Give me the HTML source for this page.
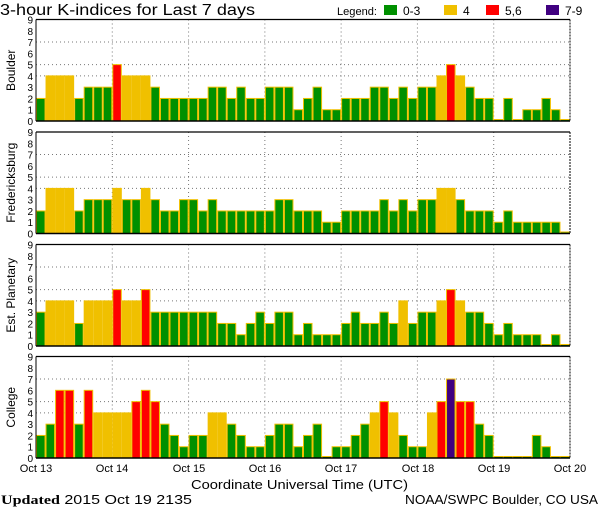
<!DOCTYPE html>
<html><head><meta charset="utf-8"><style>
html,body{margin:0;padding:0;background:#fff;}
svg{display:block;}
text{font-family:"Liberation Sans","DejaVu Sans",sans-serif;}
</style></head><body>
<svg id="s" width="600" height="510" xmlns="http://www.w3.org/2000/svg">
<rect width="600" height="510" fill="#fff"/>
<text x="0" y="15" font-size="16" textLength="255" lengthAdjust="spacingAndGlyphs">3-hour K-indices for Last 7 days</text>
<text x="337" y="15" font-size="11" textLength="40" lengthAdjust="spacingAndGlyphs">Legend:</text>
<rect x="384" y="5" width="13" height="10" fill="#009000"/><text x="403" y="15" font-size="12">0-3</text>
<rect x="444" y="5" width="13" height="10" fill="#f0c000"/><text x="463" y="15" font-size="12">4</text>
<rect x="486" y="5" width="13" height="10" fill="#ff0000"/><text x="505" y="15" font-size="12">5,6</text>
<rect x="546" y="5" width="13" height="10" fill="#400080"/><text x="565" y="15" font-size="12">7-9</text>
<g id="g"></g>
<g font-size="11" text-anchor="middle">
<text x="36" y="472">Oct 13</text><text x="112" y="472">Oct 14</text><text x="189" y="472">Oct 15</text><text x="265" y="472">Oct 16</text><text x="341" y="472">Oct 17</text><text x="418" y="472">Oct 18</text><text x="494" y="472">Oct 19</text><text x="570" y="472">Oct 20</text>
</g>
<text x="191" y="489" font-size="13" textLength="217" lengthAdjust="spacingAndGlyphs">Coordinate Universal Time (UTC)</text>
<text x="1" y="504" font-size="13" textLength="191" lengthAdjust="spacingAndGlyphs"><tspan font-family="Liberation Serif" font-weight="bold">Updated</tspan> 2015 Oct 19 2135</text>
<text x="405" y="504" font-size="13" textLength="193" lengthAdjust="spacingAndGlyphs">NOAA/SWPC Boulder, CO USA</text>
</svg>
<script>
var D=[
["Boulder",[2,4,4,4,2,3,3,3,5,4,4,4,3,2,2,2,2,2,3,3,2,3,2,2,3,3,3,1, 2,3,1,1,2,2,2,3,3,2,3,2,3,3,4,5,4,3,2,2,0,2,0,1,1,2,1,0]],
["Fredericksburg",[2,4,4,4,2,3,3,3,4,3,3,4,3,2,2,3,3,2,3,2,2,2,2,2,2,3,3,2, 2,2,1,1,2,2,2,2,3,2,3,2,3,3,4,4,3,2,2,2,1,2,1,1,1,1,1,0]],
["Est. Planetary",[3,4,4,4,2,4,4,4,5,4,4,5,3,3,3,3,3,3,3,2,2,1,2,3,2,3,3,1, 2,1,1,1,2,3,2,2,3,2,4,2,3,3,4,5,4,3,3,2,1,2,1,1,1,0,1,0]],
["College",[2,3,6,6,3,6,4,4,4,4,5,6,5,3,2,1,2,2,4,4,3,2,1,1,2,3,3,1, 2,3,0,1,1,2,3,4,5,4,2,1,1,4,5,7,5,5,3,2,0,0,0,0,2,1,0,0]]
];
var tops=[19.5,132,244.5,356.5],H=101.5,U=H/9,x0=36,x1=570,W=(x1-x0)/56;
var s='';
function col(v){return v<=3?'#009000':v==4?'#f0c000':v<=6?'#ff0000':'#400080';}
D.forEach(function(p,i){
 var t=tops[i],b=t+H;
 [4,5,7].forEach(function(l){var y=b-l*U;s+='<line x1="'+x0+'" x2="'+x1+'" y1="'+y+'" y2="'+y+'" stroke="#777" stroke-dasharray="1,3"/>';});
 for(var d=1;d<7;d++){var x=x0+d*8*W;s+='<line x1="'+x+'" x2="'+x+'" y1="'+t+'" y2="'+b+'" stroke="#777" stroke-dasharray="1,3"/>';}
 p[1].forEach(function(v,j){
  var h=v==0?1.5:v*U, x=x0+j*W;
  s+='<rect x="'+(x+0.5)+'" y="'+(b-h)+'" width="'+(W-1)+'" height="'+h+'" fill="'+col(v)+'" stroke="#f0c000" stroke-width="1"/>';
 });
 s+='<line x1="'+x0+'" x2="'+x1+'" y1="'+t+'" y2="'+t+'" stroke="#000" stroke-width="1.2"/>';
 s+='<line x1="'+x0+'" x2="'+x1+'" y1="'+b+'" y2="'+b+'" stroke="#000" stroke-width="1.5"/>';
 s+='<line x1="'+x0+'" x2="'+x0+'" y1="'+t+'" y2="'+b+'" stroke="#000" stroke-width="1"/>';
 s+='<line x1="'+x1+'" x2="'+x1+'" y1="'+t+'" y2="'+b+'" stroke="#000" stroke-dasharray="2,1"/>';
 for(var l=0;l<=9;l++){s+='<text x="33" y="'+(b-l*U+4)+'" font-size="10" text-anchor="end">'+l+'</text>';}
 var cy=t+H/2;
 s+='<text x="0" y="0" font-size="12" text-anchor="middle" transform="translate(15,'+cy+') rotate(-90)">'+p[0]+'</text>';
});
document.getElementById('g').innerHTML=s;
</script>
</body></html>
